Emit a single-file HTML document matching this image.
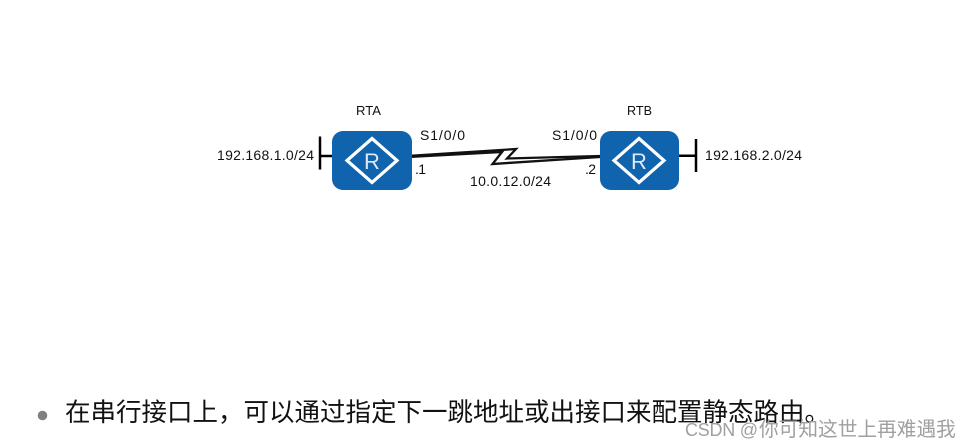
<!DOCTYPE html>
<html lang="zh">
<head>
<meta charset="utf-8">
<style>
html,body{margin:0;padding:0;background:#fff;}
body{width:972px;height:447px;overflow:hidden;position:relative;}
svg{position:absolute;left:0;top:0;filter:blur(0.35px);}
</style>
</head>
<body>
<svg width="972" height="447" viewBox="0 0 972 447" xmlns="http://www.w3.org/2000/svg">
  <rect width="972" height="447" fill="#fff"/>
  <g fill="none" stroke="#000" stroke-width="2.5">
    <line x1="320" y1="136.500" x2="320" y2="169.500"/>
    <line x1="319" y1="156" x2="334" y2="156"/>
    <line x1="696" y1="139" x2="696" y2="172"/>
    <line x1="678" y1="155.800" x2="697" y2="155.800"/>
  </g>
  <path d="M411,155.800 L516,149 L507,158.500 L600,156" fill="none" stroke="#111" stroke-width="2.300" stroke-linejoin="miter"/>
  <path d="M411,156.800 L502,152 L492.500,164 L600,157" fill="none" stroke="#111" stroke-width="2.300" stroke-linejoin="miter"/>
  <rect x="332" y="131" width="80" height="59" rx="11" fill="#1063ad"/>
  <polygon points="372,138.500 397,160.500 372,182.500 347,160.500" fill="none" stroke="#fff" stroke-width="3.200"/>
  <text x="372" y="169" font-family="'Liberation Sans',sans-serif" font-size="22" fill="#dfe9f5" text-anchor="middle">R</text>
  <rect x="600" y="131" width="79" height="59" rx="11" fill="#1063ad"/>
  <polygon points="639,138.500 664,160.500 639,182.500 614,160.500" fill="none" stroke="#fff" stroke-width="3.200"/>
  <text x="639" y="169" font-family="'Liberation Sans',sans-serif" font-size="22" fill="#dfe9f5" text-anchor="middle">R</text>
  <g font-family="'Liberation Sans',sans-serif" font-size="14" fill="#111">
    <text x="356" y="115" font-size="13" textLength="25" lengthAdjust="spacingAndGlyphs">RTA</text>
    <text x="627" y="115" font-size="13" textLength="25" lengthAdjust="spacingAndGlyphs">RTB</text>
    <text x="420" y="140" textLength="45" lengthAdjust="spacing">S1/0/0</text>
    <text x="552" y="140" textLength="45" lengthAdjust="spacing">S1/0/0</text>
    <text x="217" y="160" textLength="97" lengthAdjust="spacing">192.168.1.0/24</text>
    <text x="705" y="160" textLength="97" lengthAdjust="spacing">192.168.2.0/24</text>
    <text x="415" y="174" textLength="11" lengthAdjust="spacing">.1</text>
    <text x="585" y="174" textLength="11" lengthAdjust="spacing">.2</text>
    <text x="470" y="186" textLength="81" lengthAdjust="spacing">10.0.12.0/24</text>
  </g>
  <circle cx="42.500" cy="415.500" r="4.800" fill="#808080"/>
  <text x="65" y="421" font-family="'Liberation Sans','Noto Sans CJK SC',sans-serif" font-size="25.500" fill="#111">在串行接口上&#xFF0C;可以通过指定下一跳地址或出接口来配置静态路由。</text>
  <text x="685" y="436" font-family="'Liberation Sans',sans-serif" font-size="18" fill="#a0a0a0" textLength="73" lengthAdjust="spacing">CSDN @</text>
  <text x="759" y="436" font-family="'Liberation Sans','Noto Sans CJK SC',sans-serif" font-size="19.700" fill="#a0a0a0">你可知这世上再难遇我</text>
</svg>
</body>
</html>
